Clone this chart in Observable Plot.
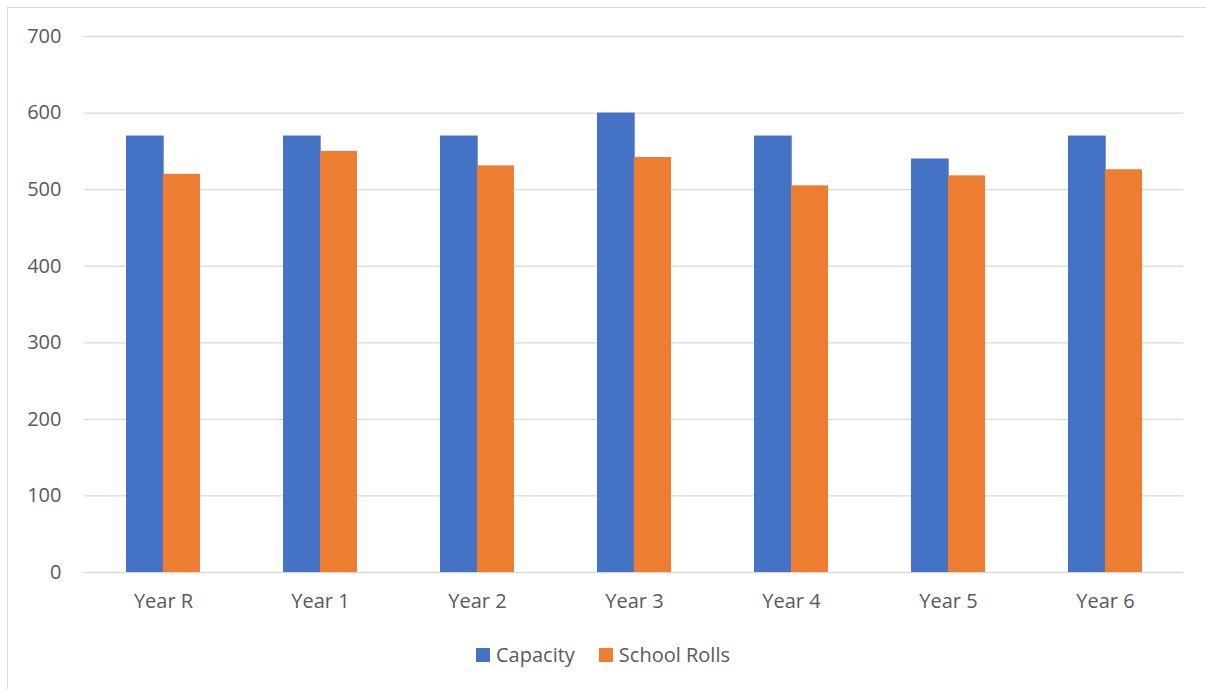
<!DOCTYPE html>
<html>
<head>
<meta charset="utf-8">
<script src="https://cdn.jsdelivr.net/npm/d3@7"></script>
<script src="https://cdn.jsdelivr.net/npm/@observablehq/plot@0.6"></script>
<style>
  html, body { margin: 0; padding: 0; background: #fff; overflow: hidden; }
  #wrap { position: relative; width: 1206px; height: 689px; }
  #frame { position: absolute; left: 7px; top: 7px; width: 1220px; height: 700px; border: 1px solid #d9d9d9; box-sizing: border-box; }
  #chart { position: absolute; left: 0; top: 0; }
  #legend { position: absolute; left: 0; top: 640px; width: 1206px; display: flex; justify-content: center; gap: 24px;
            font-family: "Open Sans", sans-serif; font-size: 20px; line-height: 30px; color: #595959; }
  .item { display: flex; align-items: center; gap: 6px; }
  .sw { width: 14px; height: 14px; display: inline-block; }
</style>
</head>
<body>
<div id="wrap">
  <div id="frame"></div>
  <div id="chart"></div>
  <div id="legend"></div>
</div>
<script>
const years = ["Year R", "Year 1", "Year 2", "Year 3", "Year 4", "Year 5", "Year 6"];
const capacity = [570, 570, 570, 600, 570, 540, 570];
const schoolRolls = [520, 550, 531, 542, 505, 518, 526];
const seriesNames = ["Capacity", "School Rolls"];
const seriesColors = ["#4472c4", "#ed7d31"];
const yTicks = [0, 100, 200, 300, 400, 500, 600, 700];

const capData = years.map((y, i) => ({year: y, value: capacity[i], series: seriesNames[0]}));
const rollData = years.map((y, i) => ({year: y, value: schoolRolls[i], series: seriesNames[1]}));

const W = 1206, H = 630;
const mL = 84, mR = 23;
const step = (W - mL - mR) / years.length;
const padInner = 0.53;
const half = step * (1 - padInner) / 2;

const chart = Plot.plot({
  width: W,
  height: H,
  marginLeft: mL,
  marginRight: mR,
  marginTop: 36,
  marginBottom: 58,
  style: {fontFamily: "'Open Sans', sans-serif", fontSize: "20px", color: "#595959", background: "transparent"},
  x: {domain: years, paddingInner: padInner, paddingOuter: padInner / 2, label: null, tickSize: 0, tickPadding: 21},
  y: {domain: [0, 700], ticks: yTicks, label: null, tickSize: 0, tickPadding: 23},
  color: {domain: seriesNames, range: seriesColors},
  marks: [
    Plot.ruleY(yTicks, {stroke: "#d9d9d9", strokeWidth: 1.3, strokeOpacity: 1}),
    Plot.barY(capData, {x: "year", y: "value", fill: "series", insetRight: half - 0.6, insetLeft: 0}),
    Plot.barY(rollData, {x: "year", y: "value", fill: "series", insetLeft: half, insetRight: 0})
  ]
});
document.getElementById("chart").appendChild(chart);

const legend = document.getElementById("legend");
seriesNames.forEach((name, i) => {
  const item = document.createElement("div");
  item.className = "item";
  const sw = document.createElement("span");
  sw.className = "sw";
  sw.style.background = seriesColors[i];
  const label = document.createElement("span");
  label.textContent = name;
  item.appendChild(sw);
  item.appendChild(label);
  legend.appendChild(item);
});
</script>
</body>
</html>
